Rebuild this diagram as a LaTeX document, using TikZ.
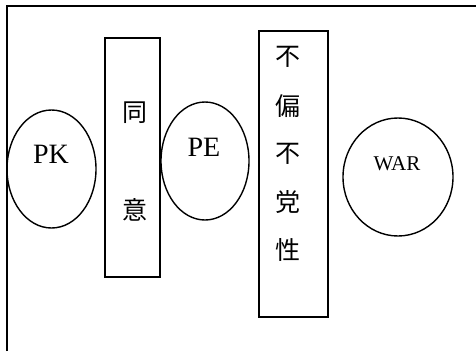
\documentclass[tikz,border=0pt]{standalone}
\usepackage{fontspec}
\setmainfont{Liberation Serif}
\newfontfamily\cjk{Noto Sans CJK JP}
\usetikzlibrary{shapes.geometric}
\begin{document}
\begin{tikzpicture}[x=1pt,y=-1pt,
  shapeline/.style={draw=black,line width=1.4pt},
  oval/.style={shapeline,ellipse,inner sep=0pt},
  bar/.style={shapeline,rectangle,inner sep=0pt},
  latin/.style={font=\fontsize{28}{28}\selectfont,inner sep=0pt,anchor=base},
  han/.style={font=\cjk\fontsize{25}{25}\selectfont,inner sep=0pt}]
\useasboundingbox (0,0) rectangle (476,351);
\fill[white] (0,0) rectangle (476,351);
\coordinate (fbl) at (7,351);
\coordinate (ftl) at (7,6);
\coordinate (ftr) at (476,6);
\draw[line width=1.5pt] (fbl) -- (ftl) -- (ftr);
% ellipses
\node[oval,minimum width=89,minimum height=118] (pk) at (51.5,169) {};
\node[oval,minimum width=88,minimum height=118] (pe) at (205,161) {};
\node[oval,minimum width=110,minimum height=118] (war) at (398,177) {};
% boxes
\node[bar,minimum width=55,minimum height=239] (agree) at (132.5,157.5) {};
\node[bar,minimum width=69,minimum height=286] (neutral) at (293.5,174) {};
% texts
\node[latin] (pkt) at (51,163) {PK};
\node[latin] (pet) at (204,156) {PE};
\node[latin,font=\fontsize{21}{21}\selectfont] (wart) at (397,170) {WAR};
\node[han] (a1) at (135,113) {同};
\node[han] (a2) at (135,210) {意};
\node[han] (n1) at (288,57) {不};
\node[han] (n2) at (288,106) {偏};
\node[han] (n3) at (288,154) {不};
\node[han] (n4) at (288,202) {党};
\node[han] (n5) at (288,250) {性};
\end{tikzpicture}
\end{document}
